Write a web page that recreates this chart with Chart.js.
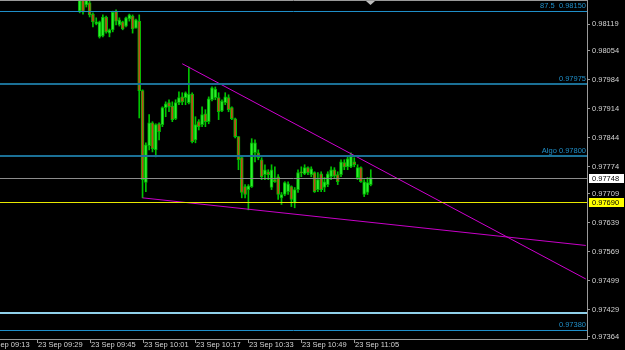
<!DOCTYPE html>
<html>
<head>
<meta charset="utf-8">
<script src="https://cdn.jsdelivr.net/npm/chart.js@4.4.1/dist/chart.umd.min.js"></script>
<style>
  html, body { margin: 0; padding: 0; background: #000; }
  #wrap { width: 625px; height: 350px; }
</style>
</head>
<body>
<div id="wrap"><canvas id="chart" width="625" height="350"></canvas></div>
<script>
// --- DATA: one-minute candles, 23 Sep ---
const candleTimes = [
  '09:42','09:43','09:44','09:45','09:46','09:47','09:48','09:49','09:50','09:51',
  '09:52','09:53','09:54','09:55','09:56','09:57','09:58','09:59','10:00','10:01',
  '10:02','10:03','10:04','10:05','10:06','10:07','10:08','10:09','10:10','10:11',
  '10:12','10:13','10:14','10:15','10:16','10:17','10:18','10:19','10:20','10:21',
  '10:22','10:23','10:24','10:25','10:26','10:27','10:28','10:29','10:30','10:31',
  '10:32','10:33','10:34','10:35','10:36','10:37','10:38','10:39','10:40','10:41',
  '10:42','10:43','10:44','10:45','10:46','10:47','10:48','10:49','10:50','10:51',
  '10:52','10:53','10:54','10:55','10:56','10:57','10:58','10:59','11:00','11:01',
  '11:02','11:03','11:04','11:05','11:06','11:07','11:08','11:09','11:10'
];
const openPrices = [
  0.98150,0.98182,0.98165,0.98170,0.98143,0.98119,0.98088,0.98090,0.98136,0.98097,
  0.98105,0.98150,0.98117,0.98124,0.98114,0.98131,0.98138,0.98109,0.98126,0.97958,
  0.97736,0.97825,0.97880,0.97815,0.97878,0.97876,0.97917,0.97929,0.97921,0.97890,
  0.97929,0.97943,0.97941,0.97929,0.97950,0.97839,0.97883,0.97876,0.97902,0.97883,
  0.97936,0.97941,0.97941,0.97909,0.97929,0.97941,0.97917,0.97890,0.97847,0.97796,
  0.97726,0.97719,0.97726,0.97808,0.97808,0.97791,0.97755,0.97762,0.97724,0.97743,
  0.97750,0.97699,0.97707,0.97714,0.97726,0.97687,0.97719,0.97762,0.97757,0.97772,
  0.97755,0.97760,0.97719,0.97757,0.97724,0.97731,0.97750,0.97767,0.97755,0.97755,
  0.97784,0.97774,0.97774,0.97786,0.97748,0.97772,0.97707,0.97712,0.97731
];
const highPrices = [
  0.98196,0.98191,0.98187,0.98177,0.98146,0.98134,0.98126,0.98141,0.98138,0.98107,
  0.98150,0.98153,0.98134,0.98126,0.98136,0.98143,0.98141,0.98131,0.98141,0.97960,
  0.97832,0.97900,0.97883,0.97878,0.97880,0.97919,0.97931,0.97936,0.97931,0.97936,
  0.97955,0.97953,0.97955,0.98015,0.97953,0.97895,0.97888,0.97919,0.97912,0.97943,
  0.97967,0.97967,0.97953,0.97936,0.97953,0.97948,0.97919,0.97892,0.97847,0.97798,
  0.97731,0.97731,0.97842,0.97839,0.97815,0.97796,0.97779,0.97767,0.97779,0.97774,
  0.97755,0.97712,0.97738,0.97738,0.97728,0.97724,0.97767,0.97774,0.97779,0.97774,
  0.97774,0.97762,0.97760,0.97762,0.97748,0.97762,0.97774,0.97772,0.97762,0.97791,
  0.97791,0.97798,0.97808,0.97796,0.97779,0.97774,0.97743,0.97748,0.97767
];
const lowPrices = [
  0.98146,0.98143,0.98160,0.98136,0.98112,0.98117,0.98085,0.98088,0.98097,0.98088,
  0.98100,0.98117,0.98114,0.98105,0.98112,0.98126,0.98097,0.98109,0.97892,0.97699,
  0.97714,0.97815,0.97810,0.97798,0.97839,0.97871,0.97895,0.97907,0.97883,0.97888,
  0.97924,0.97924,0.97924,0.97926,0.97832,0.97832,0.97863,0.97871,0.97871,0.97878,
  0.97933,0.97936,0.97888,0.97907,0.97924,0.97907,0.97888,0.97844,0.97767,0.97699,
  0.97699,0.97670,0.97724,0.97786,0.97791,0.97743,0.97743,0.97743,0.97719,0.97736,
  0.97695,0.97683,0.97704,0.97707,0.97678,0.97675,0.97712,0.97750,0.97755,0.97755,
  0.97750,0.97712,0.97714,0.97714,0.97714,0.97726,0.97743,0.97748,0.97731,0.97750,
  0.97767,0.97767,0.97772,0.97774,0.97743,0.97736,0.97702,0.97707,0.97728
];
const closePrices = [
  0.98184,0.98148,0.98179,0.98141,0.98124,0.98124,0.98124,0.98136,0.98100,0.98105,
  0.98148,0.98126,0.98129,0.98107,0.98134,0.98141,0.98107,0.98129,0.97958,0.97743,
  0.97827,0.97880,0.97818,0.97876,0.97859,0.97917,0.97926,0.97919,0.97888,0.97929,
  0.97941,0.97931,0.97953,0.97950,0.97835,0.97876,0.97871,0.97900,0.97883,0.97938,
  0.97965,0.97962,0.97907,0.97933,0.97943,0.97912,0.97890,0.97847,0.97791,0.97712,
  0.97707,0.97728,0.97832,0.97832,0.97796,0.97750,0.97767,0.97755,0.97767,0.97738,
  0.97707,0.97707,0.97736,0.97733,0.97695,0.97719,0.97760,0.97760,0.97772,0.97760,
  0.97769,0.97714,0.97743,0.97719,0.97738,0.97757,0.97767,0.97752,0.97738,0.97786,
  0.97774,0.97793,0.97803,0.97779,0.97772,0.97738,0.97738,0.97736,0.97748
];

// trend lines (time, price at each end)
const upperTrendTimes = ['10:13', '12:15'];
const upperTrendPrices = [0.98023, 0.97503];
const lowerTrendTimes = ['10:01', '12:15'];
const lowerTrendPrices = [0.97699, 0.97584];

// horizontal levels and their captions
const levelPrices = [0.98150, 0.97975, 0.97800, 0.97748, 0.97690, 0.97420, 0.97380];
const levelTexts = ['87.5  0.98150', '0.97975', 'Algo 0.97800', '', '', '', '0.97380'];

// boxed price labels on the right axis (bid, entry)
const markPrices = [0.97748, 0.97690];

// axis ticks
const yTicks = [0.98119, 0.98054, 0.97984, 0.97914, 0.97844, 0.97774, 0.97709, 0.97639, 0.97569, 0.97499, 0.97429, 0.97364];
const xTickLabels = ['23 Sep 09:13', '23 Sep 09:29', '23 Sep 09:45', '23 Sep 10:01', '23 Sep 10:17', '23 Sep 10:33', '23 Sep 10:49', '23 Sep 11:05'];

// visible window
const xMinTime = '09:17.91';
const xMaxTime = '12:15.36';
const yMin = 0.97358;
const yMax = 0.98177;

// --- HELPERS ---
function toMin(t) {
    let hm = t.slice(-8).trim().split(':');
    return parseInt(hm[0].slice(-2)) * 60 + parseFloat(hm[1]);
}

const FONT = '"Liberation Sans", Arial, sans-serif';
const BULL_FILL = '#2cf02c', BULL_EDGE = '#00b000';
const BEAR_FILL = '#c4451a', BEAR_EDGE = '#00c000';
const WICK = '#00c400';
const AXIS = '#9a9a9a';

const levelStyles = [
    { color: '#1f8fc9', width: 1 },
    { color: '#1b7096', width: 2 },
    { color: '#1b7096', width: 2 },
    { color: '#8c8c8c', width: 1 },
    { color: '#e8e800', width: 1 },
    { color: '#8fd0ea', width: 2 },
    { color: '#1f8fc9', width: 1 }
];
const markColors = ['#ffffff', '#ffff00'];

// --- PLUGIN: levels, boxed prices, time axis ---
const overlay = {
    id: 'overlay',
    afterDatasetsDraw(chart) {
        const { ctx, chartArea: a, scales: { y } } = chart;
        ctx.save();
        levelPrices.forEach((p, i) => {
            let py = Math.round(y.getPixelForValue(p));
            let st = levelStyles[i];
            ctx.strokeStyle = st.color;
            ctx.lineWidth = st.width;
            ctx.beginPath();
            let off = st.width % 2 ? 0.5 : 0;
            ctx.moveTo(a.left, py + off);
            ctx.lineTo(a.right, py + off);
            ctx.stroke();
            if (levelTexts[i]) {
                ctx.fillStyle = '#1f8fc9';
                ctx.font = '7.5px ' + FONT;
                ctx.textAlign = 'right';
                ctx.textBaseline = 'bottom';
                ctx.fillText(levelTexts[i], a.right - 1, py - 1);
            }
        });
        ctx.restore();
    },
    afterDraw(chart) {
        const { ctx, chartArea: a, scales: { x, y } } = chart;
        ctx.save();
        // frame: top and bottom
        ctx.strokeStyle = AXIS;
        ctx.lineWidth = 1;
        ctx.beginPath();
        ctx.moveTo(a.left, 0.5); ctx.lineTo(a.right, 0.5);
        ctx.moveTo(a.left, a.bottom + 0.5); ctx.lineTo(a.right + 1, a.bottom + 0.5);
        ctx.stroke();
        // shift marker at top
        ctx.fillStyle = '#bdbdbd';
        ctx.beginPath();
        ctx.moveTo(366, 1); ctx.lineTo(375, 1); ctx.lineTo(370.5, 5);
        ctx.fill();
        // time labels
        ctx.font = '7.5px ' + FONT;
        ctx.textAlign = 'left';
        ctx.textBaseline = 'top';
        xTickLabels.forEach(lbl => {
            let px = Math.round(x.getPixelForValue(toMin(lbl)));
            ctx.beginPath();
            ctx.moveTo(px + 0.5, a.bottom);
            ctx.lineTo(px + 0.5, a.bottom + 4);
            ctx.stroke();
            ctx.fillStyle = '#d4d4d4';
            ctx.fillText(lbl, px + 1, a.bottom + 2);
        });
        // boxed prices
        markPrices.forEach((p, i) => {
            let py = Math.round(y.getPixelForValue(p));
            ctx.fillStyle = markColors[i];
            ctx.fillRect(a.right + 2, py - 4, 35, 9);
            ctx.fillStyle = '#000';
            ctx.textBaseline = 'middle';
            ctx.fillText(p.toFixed(5), a.right + 5, py + 0.5);
        });
        ctx.restore();
    }
};

// --- BUILD DATASETS ---
const bodies = candleTimes.map((t, i) => ({ x: toMin(t), y: [openPrices[i], closePrices[i]] }));
const wicks = candleTimes.map((t, i) => ({ x: toMin(t), y: [lowPrices[i], highPrices[i]] }));
const isBull = closePrices.map((c, i) => c >= openPrices[i]);

new Chart(document.getElementById('chart'), {
    type: 'bar',
    data: {
        datasets: [
            {
                type: 'line',
                data: upperTrendTimes.map((t, i) => ({ x: toMin(t), y: upperTrendPrices[i] })),
                borderColor: '#d000d0',
                borderWidth: 1,
                pointRadius: 0,
                order: 0
            },
            {
                type: 'line',
                data: lowerTrendTimes.map((t, i) => ({ x: toMin(t), y: lowerTrendPrices[i] })),
                borderColor: '#c800c8',
                borderWidth: 1,
                pointRadius: 0,
                order: 0
            },
            {
                data: bodies,
                backgroundColor: isBull.map(b => b ? BULL_FILL : BEAR_FILL),
                borderColor: isBull.map(b => b ? BULL_EDGE : BEAR_EDGE),
                borderWidth: 1,
                borderSkipped: false,
                barThickness: 3,
                grouped: false,
                order: 1
            },
            {
                data: wicks,
                backgroundColor: WICK,
                borderWidth: 0,
                barThickness: 1,
                grouped: false,
                order: 2
            }
        ]
    },
    options: {
        responsive: false,
        animation: false,
        layout: { padding: 0 },
        plugins: { legend: { display: false }, tooltip: { enabled: false } },
        scales: {
            x: {
                type: 'linear',
                offset: false,
                min: toMin(xMinTime),
                max: toMin(xMaxTime),
                ticks: { display: false },
                grid: { display: false, offset: false },
                border: { display: false },
                afterFit: s => { s.height = 11; s.paddingLeft = 0; s.paddingRight = 0; }
            },
            y: {
                type: 'linear',
                position: 'right',
                min: yMin,
                max: yMax,
                afterBuildTicks: s => { s.ticks = yTicks.map(v => ({ value: v })); },
                afterFit: s => { s.width = 38; s.paddingTop = 0; s.paddingBottom = 0; },
                ticks: {
                    autoSkip: false,
                    color: '#d4d4d4',
                    padding: 2,
                    font: { family: FONT, size: 7.5 },
                    callback: v => v.toFixed(5)
                },
                grid: { drawOnChartArea: false, drawTicks: true, tickLength: 3, color: AXIS },
                border: { display: true, color: AXIS }
            }
        }
    },
    plugins: [overlay]
});
</script>
</body>
</html>
